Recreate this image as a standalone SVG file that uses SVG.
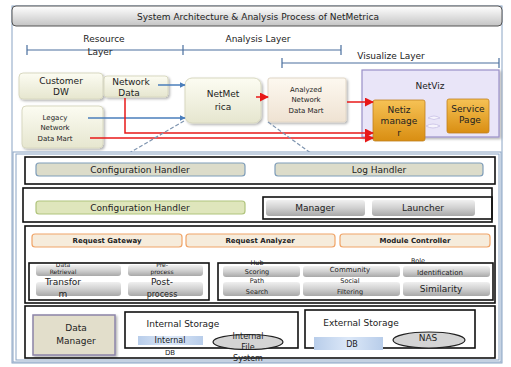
<svg xmlns="http://www.w3.org/2000/svg" width="511" height="367" viewBox="0 0 511 367">
<style>
text{font-family:"DejaVu Sans","Liberation Sans",sans-serif;fill:#222;text-anchor:middle}
.t9{font-size:9px}
.t8{font-size:8px}
.t7{font-size:7px}
.t6{font-size:6.5px}
.t5{font-size:6px}
.b{font-weight:bold}
.rowbox{fill:none;stroke:#111;stroke-width:1.6}
.cream{fill:url(#gCream);stroke:#d8d8c0;stroke-width:1}
.pill1{fill:#dcdcca;stroke:#7f9db9;stroke-width:1.2}
.pill2{fill:#dfe6bc;stroke:#b0c47c;stroke-width:1.2}
.pillg{fill:url(#gGray)}
.pillr{fill:#f6ecdc;stroke:#f0a468;stroke-width:1.2}
.orange{fill:url(#gOrange);stroke:#c08020;stroke-width:0.8}
.blue{fill:url(#gBlue)}
.ell{fill:#d4d4d4;stroke:#222;stroke-width:1.2}
.lay{stroke:#4a6f9e;stroke-width:1.2;fill:none}
.ab{stroke:#4a7ebb;stroke-width:1.5;fill:none;marker-end:url(#mBlue)}
.ar{stroke:#e81818;stroke-width:1.5;fill:none;marker-end:url(#mRed)}
.dash{stroke:#7f95b0;stroke-width:1.2;stroke-dasharray:4 2;fill:none}
</style>
<defs>
<linearGradient id="gTitle" x1="0" y1="0" x2="0" y2="1"><stop offset="0" stop-color="#ffffff"/><stop offset="1" stop-color="#c4c4c4"/></linearGradient>
<linearGradient id="gCream" x1="0" y1="0" x2="0" y2="1"><stop offset="0" stop-color="#fcfcf2"/><stop offset="1" stop-color="#e6e6cf"/></linearGradient>
<linearGradient id="gPink" x1="0" y1="0" x2="0" y2="1"><stop offset="0" stop-color="#fdf8f0"/><stop offset="1" stop-color="#efe2d2"/></linearGradient>
<linearGradient id="gOrange" x1="0" y1="0" x2="0" y2="1"><stop offset="0" stop-color="#f6c255"/><stop offset="1" stop-color="#d98e12"/></linearGradient>
<linearGradient id="gGray" x1="0" y1="0" x2="0" y2="1"><stop offset="0" stop-color="#f0f0f0"/><stop offset="0.5" stop-color="#d0d0d0"/><stop offset="1" stop-color="#a8a8a8"/></linearGradient>
<linearGradient id="gBlue" x1="0" y1="0" x2="1" y2="0"><stop offset="0" stop-color="#b8cdea"/><stop offset="0.5" stop-color="#dce8f8"/><stop offset="1" stop-color="#b8cdea"/></linearGradient>
<marker id="mBlue" viewBox="0 0 10 10" refX="9" refY="5" markerWidth="6" markerHeight="6" orient="auto" markerUnits="userSpaceOnUse"><path d="M0,0 L10,5 L0,10 z" fill="#4a7ebb"/></marker>
<marker id="mRed" viewBox="0 0 10 10" refX="9" refY="5" markerWidth="9" markerHeight="9" orient="auto" markerUnits="userSpaceOnUse"><path d="M0,0 L10,5 L0,10 z" fill="#e81818"/></marker>
<filter id="sh" x="-10%" y="-10%" width="130%" height="140%"><feDropShadow dx="1.5" dy="1.5" stdDeviation="1.2" flood-color="#000" flood-opacity="0.3"/></filter>
</defs>

<rect width="511" height="367" fill="#fff"/>
<g id="frame">
<rect x="12" y="6" width="490" height="357" fill="#fff" stroke="#8aa4c4" stroke-width="1"/>
<rect x="12" y="6" width="490" height="20" rx="4" fill="url(#gTitle)" stroke="#555" stroke-width="1"/>
<text class="t9" x="258" y="20">System Architecture &amp; Analysis Process of NetMetrica</text>
</g>

<g id="layers">
<path class="lay" d="M27,50 H341 M27,45 V55 M183,45 V55 M341,45 V55"/>
<path class="lay" d="M282,63 H499 M282,58 V68 M499,58 V68"/>
<text class="t9" x="104" y="42">Resource</text>
<text class="t9" x="100" y="55">Layer</text>
<text class="t9" x="258" y="42">Analysis Layer</text>
<text class="t9" x="391" y="59">Visualize Layer</text>
</g>

<g id="customer-dw"><rect class="cream" x="19" y="73" width="84" height="26" rx="4" filter="url(#sh)"/><text class="t9" x="61" y="84">Customer</text><text class="t9" x="61" y="95">DW</text></g>
<g id="network-data"><rect class="cream" x="104" y="76" width="64" height="21" rx="3" filter="url(#sh)"/><text class="t9" x="131" y="85">Network</text><text class="t9" x="129" y="96">Data</text></g>
<g id="legacy"><rect class="cream" x="22" y="106" width="81" height="42" rx="4" filter="url(#sh)"/><text class="t7" x="55" y="120">Legacy</text><text class="t7" x="55" y="130">Network</text><text class="t7" x="55" y="141">Data  Mart</text></g>
<g id="netmetrica"><rect class="cream" x="185" y="78" width="76" height="45" rx="7" filter="url(#sh)"/><text class="t9" x="223" y="97">NetMet</text><text class="t9" x="223" y="110">rica</text></g>
<g id="analyzed"><rect x="268" y="78" width="78" height="44" rx="2" fill="url(#gPink)" stroke="#e0d6c6" filter="url(#sh)"/><text class="t7" x="306" y="92">Analyzed</text><text class="t7" x="306" y="102">Network</text><text class="t7" x="306" y="113">Data  Mart</text></g>
<g id="netviz"><rect x="362" y="70" width="137" height="67" fill="#e9e5f8" stroke="#9a90c8" stroke-width="1.2" filter="url(#sh)"/><text class="t9" x="430" y="89">NetViz</text>
<path d="M428,118 q6,-4 12,0 q-6,3 -12,0 z M426,126 q7,-4 14,0 q-7,4 -14,0 z" fill="#f6f4fc" stroke="#c8c0e6" stroke-width="0.8"/></g>
<g id="netiz-manager"><rect class="orange" x="373" y="100" width="52" height="41" rx="2"/><text class="t9" x="399" y="113">Netiz</text><text class="t9" x="399" y="124">manage</text><text class="t9" x="399" y="136">r</text></g>
<g id="service-page"><rect class="orange" x="447" y="99" width="42" height="34" rx="2"/><text class="t9" x="468" y="112">Service</text><text class="t9" x="470" y="123">Page</text></g>

<g id="connectors">
<path class="ab" d="M158,85 H185"/>
<path class="ab" d="M88,118 H185"/>
<path class="ar" d="M125,98 V133 H373"/>
<path class="ar" d="M90,138 H373"/>
<path class="ar" d="M256,97 H268"/>
<path class="ar" d="M347,102 H373"/>
<path class="dash" d="M184,121 L124,156"/>
<path class="dash" d="M268,122 L312,154"/>
</g>

<g id="framework">
<rect x="13" y="152" width="488" height="210" fill="#fff" stroke="#8aa4c4" stroke-width="1"/>
<rect x="16" y="154" width="483" height="206" fill="none" stroke="#8aa4c4" stroke-width="1"/>
</g>

<g id="row1"><rect class="rowbox" x="25" y="157" width="470" height="27"/>
<g id="config-handler-1"><rect class="pill1" x="36" y="163" width="209" height="13" rx="3"/><text class="t9" x="140" y="173">Configuration Handler</text></g>
<g id="log-handler"><rect class="pill1" x="275" y="163" width="208" height="13" rx="3"/><text class="t9" x="379" y="173">Log Handler</text></g>
</g>

<g id="row2"><rect class="rowbox" x="23" y="188" width="469" height="34"/>
<g id="config-handler-2"><rect class="pill2" x="36" y="201" width="209" height="13" rx="3"/><text class="t9" x="140" y="211">Configuration Handler</text></g>
<rect class="rowbox" x="263" y="197" width="229" height="22"/>
<g id="manager"><rect class="pillg" x="266" y="200" width="99" height="16" rx="3"/><text class="t9" x="315" y="211">Manager</text></g>
<g id="launcher"><rect class="pillg" x="372" y="200" width="103" height="16" rx="3"/><text class="t9" x="423" y="211">Launcher</text></g>
</g>

<g id="row3"><rect class="rowbox" x="25" y="226" width="470" height="77"/>
<g id="request-gateway"><rect class="pillr" x="32" y="234" width="150" height="13" rx="3"/><text class="t7 b" x="107" y="243">Request Gateway</text></g>
<g id="request-analyzer"><rect class="pillr" x="186" y="234" width="149" height="13" rx="3"/><text class="t7 b" x="260" y="243">Request Analyzer</text></g>
<g id="module-controller"><rect class="pillr" x="340" y="234" width="150" height="13" rx="3"/><text class="t7 b" x="415" y="243">Module Controller</text></g>
<rect class="rowbox" x="29" y="263" width="180" height="37"/>
<g id="data-retrieval"><rect class="pillg" x="36" y="265" width="85" height="11" rx="3"/><rect class="pillg" x="36" y="282" width="85" height="14" rx="3"/>
<text class="t5" x="63" y="267">Data</text><text class="t5" x="63" y="274">Retrieval</text><text class="t9" x="63" y="285">Transfor</text><text class="t9" x="63" y="297">m</text></g>
<g id="process"><rect class="pillg" x="128" y="265" width="75" height="11" rx="3"/><rect class="pillg" x="128" y="282" width="75" height="14" rx="3"/>
<text class="t5" x="162" y="267">Pre-</text><text class="t5" x="162" y="274">process</text><text class="t9" x="162" y="285">Post-</text><text class="t8" x="162" y="297">process</text></g>
<rect class="rowbox" x="218" y="263" width="275" height="37"/>
<g id="hub-path"><rect class="pillg" x="223" y="266" width="77" height="11" rx="3"/><rect class="pillg" x="223" y="282" width="77" height="14" rx="3"/>
<text class="t6" x="257" y="265">Hub</text><text class="t6" x="257" y="274">Scoring</text><text class="t6" x="257" y="283">Path</text><text class="t6" x="257" y="294">Search</text></g>
<g id="community-social"><rect class="pillg" x="303" y="266" width="97" height="11" rx="3"/><rect class="pillg" x="303" y="282" width="97" height="14" rx="3"/>
<text class="t7" x="350" y="272">Community</text><text class="t6" x="350" y="283">Social</text><text class="t6" x="350" y="294">Filtering</text></g>
<g id="role-similarity"><rect class="pillg" x="403" y="266" width="87" height="11" rx="3"/><rect class="pillg" x="403" y="282" width="87" height="14" rx="3"/>
<text class="t6" x="418" y="263">Role</text><text class="t7" x="440" y="275">Identification</text><text class="t9" x="441" y="292">Similarity</text></g>
</g>

<g id="row4"><rect class="rowbox" x="25" y="306" width="470" height="52"/>
<g id="data-manager"><rect x="33" y="315" width="82" height="40" fill="#e2decb" stroke="#8c84a8" stroke-width="1.5" filter="url(#sh)"/><text class="t9" x="76" y="331">Data</text><text class="t9" x="76" y="344">Manager</text></g>
<g id="internal-storage"><rect class="rowbox" x="125" y="312" width="173" height="36" style="fill:#fff"/>
<text class="t9" x="183" y="327">Internal Storage</text>
<rect class="blue" x="138" y="336" width="65" height="9"/><text class="t8" x="170" y="343">Internal</text><text class="t7" x="170" y="355">DB</text>
<ellipse class="ell" cx="248" cy="342" rx="35" ry="7.5"/><text class="t8" x="248" y="339">Internal</text><text class="t8" x="248" y="350">File</text><text class="t8" x="248" y="361">System</text></g>
<g id="external-storage"><rect class="rowbox" x="305" y="310" width="170" height="38"/>
<text class="t9" x="361" y="326">External Storage</text>
<rect class="blue" x="314" y="337" width="69" height="13"/><text class="t8" x="352" y="347">DB</text>
<ellipse class="ell" cx="429" cy="340" rx="36" ry="8"/><text class="t9" x="428" y="341">NAS</text></g>
</g>
</svg>
